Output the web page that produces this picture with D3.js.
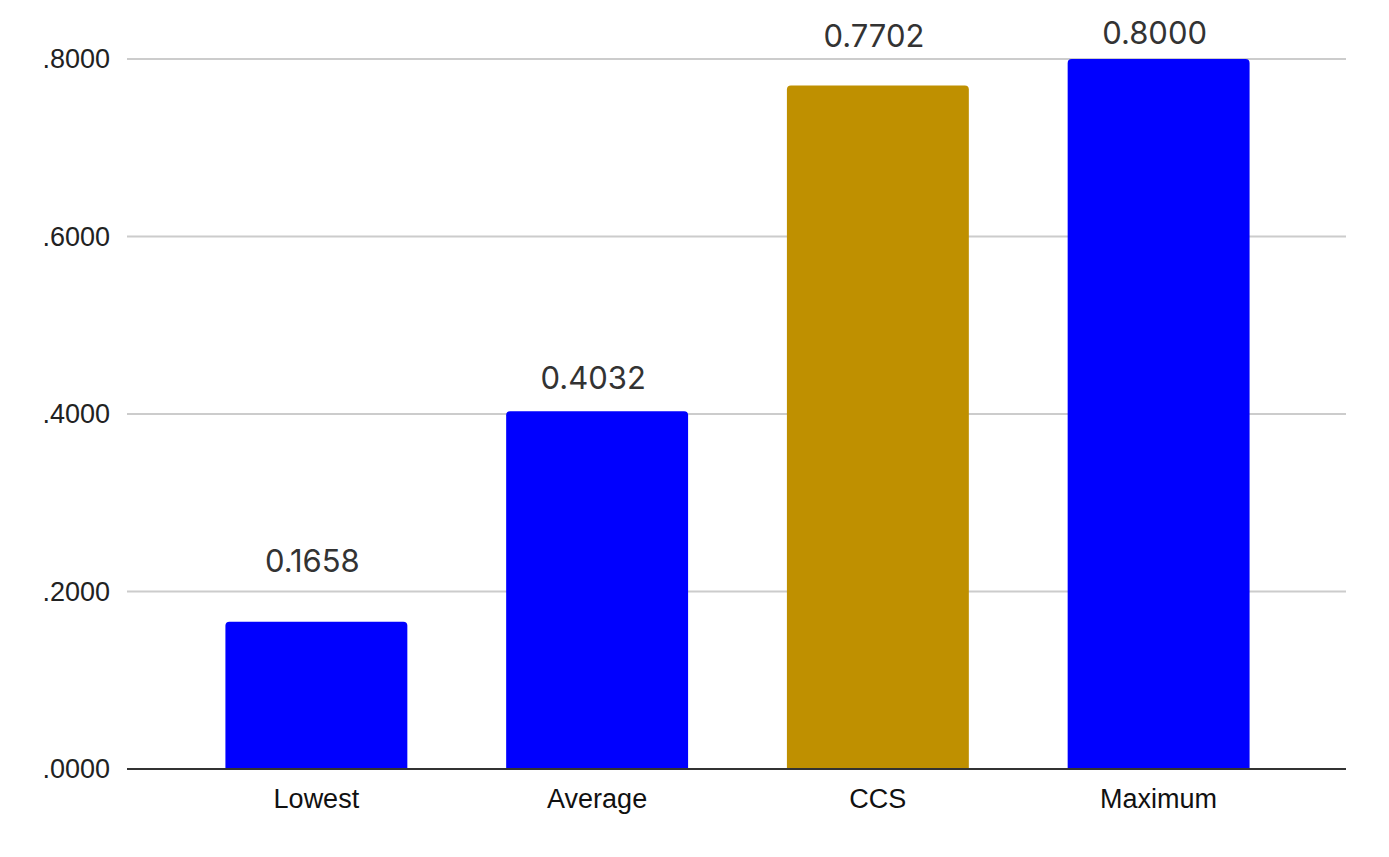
<!DOCTYPE html>
<html>
<head>
<meta charset="utf-8">
<script src="https://cdn.jsdelivr.net/npm/d3@7"></script>
<style>
  body { margin: 0; background: #fff; }
</style>
</head>
<body>
<div id="chart"></div>
<script>
const categories = ["Lowest", "Average", "CCS", "Maximum"];
const values = [0.1658, 0.4032, 0.7702, 0.8000];
const barColors = ["#0000ff", "#0000ff", "#bf9000", "#0000ff"];
const yTicks = [0, 0.2, 0.4, 0.6, 0.8];

// how far each value label sits above its bar
const labelLift = [50, 22, 38, 15];

const width = 1389, height = 857;

const svg = d3.select("#chart")
    .append("svg")
    .attr("width", width)
    .attr("height", height);

const y = d3.scaleLinear().domain([0, 0.8]).range([769, 59]);
const x = d3.scaleBand().domain(categories).range([176, 1299]).paddingInner(0.352).paddingOuter(0.176);

// gridlines
svg.append("g")
    .selectAll("line")
    .data(yTicks.filter(d => d > 0))
    .join("line")
    .attr("x1", 127)
    .attr("x2", 1346)
    .attr("y1", d => y(d))
    .attr("y2", d => y(d))
    .attr("stroke", "#cccccc")
    .attr("stroke-width", 2);

// y tick labels
svg.append("g")
    .selectAll("text")
    .data(yTicks)
    .join("text")
    .attr("x", 110)
    .attr("y", d => y(d))
    .attr("dy", "0.35em")
    .attr("text-anchor", "end")
    .attr("font-family", "Liberation Sans, Arial, sans-serif")
    .attr("font-size", 27)
    .attr("fill", "#222")
    .text(d => d3.format(".4f")(d).replace(/^0/, ""));

// bars, small rounded top corners
const r = 4;
svg.append("g")
    .selectAll("path")
    .data(values)
    .join("path")
    .attr("fill", (d, i) => barColors[i])
    .attr("d", (d, i) => {
        const x0 = x(categories[i]), x1 = x0 + x.bandwidth();
        const y0 = y(0), y1 = y(d);
        return `M${x0},${y0}V${y1 + r}Q${x0},${y1} ${x0 + r},${y1}H${x1 - r}Q${x1},${y1} ${x1},${y1 + r}V${y0}Z`;
    });

// baseline
svg.append("line")
    .attr("x1", 127)
    .attr("x2", 1346)
    .attr("y1", y(0))
    .attr("y2", y(0))
    .attr("stroke", "#333")
    .attr("stroke-width", 2);

// value labels
svg.append("g")
    .selectAll("text")
    .data(values)
    .join("text")
    .attr("x", (d, i) => x(categories[i]) + x.bandwidth() / 2 - 4)
    .attr("y", (d, i) => y(d) - labelLift[i])
    .attr("text-anchor", "middle")
    .attr("font-family", "Inter, sans-serif")
    .attr("font-size", 31)
    .attr("fill", "#333")
    .text(d => d3.format(".4f")(d));

// category labels
svg.append("g")
    .selectAll("text")
    .data(categories)
    .join("text")
    .attr("x", d => x(d) + x.bandwidth() / 2)
    .attr("y", 808)
    .attr("text-anchor", "middle")
    .attr("font-family", "Liberation Sans, Arial, sans-serif")
    .attr("font-size", 27)
    .attr("fill", "#111")
    .text(d => d);
</script>
</body>
</html>
